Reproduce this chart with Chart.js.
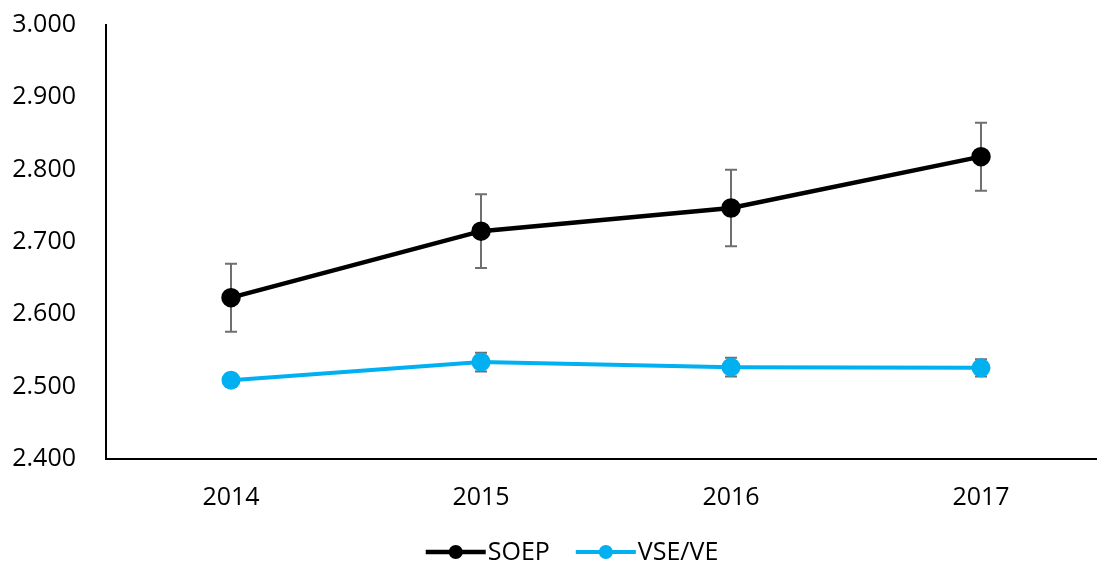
<!DOCTYPE html>
<html>
<head>
<meta charset="utf-8">
<script src="https://cdn.jsdelivr.net/npm/chart.js@4.4.0/dist/chart.umd.min.js"></script>
<style>
  html, body { margin: 0; padding: 0; background: #fff; overflow: hidden; }
</style>
</head>
<body>
<canvas id="chart" width="1118" height="567"></canvas>
<script>
// data
const years = ["2014", "2015", "2016", "2017"];
const soep = [2.623, 2.715, 2.747, 2.818];
const soepErr = [0.047, 0.051, 0.053, 0.047];
const vse = [2.509, 2.534, 2.527, 2.526];
const vseErr = [0.009, 0.013, 0.013, 0.012];
const yTicks = [2.4, 2.5, 2.6, 2.7, 2.8, 2.9, 3.0];

const black = "#000000";
const blue = "#00B0F0";
const barColor = "#6f6f6f";
const fontFam = "Open Sans";

const errorBars = {
  id: "errorBars",
  beforeDatasetsDraw(chart) {
    let ctx = chart.ctx;
    let x = chart.scales.x, y = chart.scales.y;
    let sets = [[soep, soepErr], [vse, vseErr]];
    ctx.save();
    ctx.strokeStyle = barColor;
    ctx.lineWidth = 2;
    sets.forEach(function (s) {
      s[0].forEach(function (v, i) {
        let px = x.getPixelForValue(i);
        let top = y.getPixelForValue(v + s[1][i]);
        let bot = y.getPixelForValue(v - s[1][i]);
        ctx.beginPath();
        ctx.moveTo(px, top); ctx.lineTo(px, bot);
        ctx.moveTo(px - 6, top); ctx.lineTo(px + 6, top);
        ctx.moveTo(px - 6, bot); ctx.lineTo(px + 6, bot);
        ctx.stroke();
      });
    });
    ctx.restore();
  }
};

// legend like the spreadsheet one: line with a dot, then the name
const lineLegend = {
  id: "lineLegend",
  afterDraw(chart) {
    let ctx = chart.ctx;
    let sets = chart.data.datasets;
    ctx.save();
    ctx.font = "25px '" + fontFam + "'";
    ctx.textBaseline = "middle";
    let markW = 60, gapText = 2, gapItem = 26;
    let total = 0;
    sets.forEach(function (d, i) {
      total += markW + gapText + ctx.measureText(d.label).width + (i < sets.length - 1 ? gapItem : 0);
    });
    let x = chart.width / 2 + 13 - total / 2;
    let y = 552;
    sets.forEach(function (d) {
      ctx.strokeStyle = d.borderColor;
      ctx.lineWidth = d.borderWidth;
      ctx.beginPath();
      ctx.moveTo(x, y); ctx.lineTo(x + markW, y);
      ctx.stroke();
      ctx.fillStyle = d.borderColor;
      ctx.beginPath();
      ctx.arc(x + markW / 2, y, 7, 0, Math.PI * 2);
      ctx.fill();
      ctx.fillStyle = "#000";
      ctx.fillText(d.label, x + markW + gapText, y + 1);
      x += markW + gapText + ctx.measureText(d.label).width + gapItem;
    });
    ctx.restore();
  }
};

var chart = new Chart(document.getElementById("chart"), {
  type: "line",
  data: {
    labels: years,
    datasets: [
      {
        label: "SOEP",
        data: soep,
        borderColor: black,
        backgroundColor: black,
        borderWidth: 4.5,
        pointRadius: 7.5,
        pointHoverRadius: 7.5,
        fill: false
      },
      {
        label: "VSE/VE",
        data: vse,
        borderColor: blue,
        backgroundColor: blue,
        borderWidth: 4,
        pointRadius: 7.5,
        pointHoverRadius: 7.5,
        fill: false
      }
    ]
  },
  options: {
    responsive: false,
    animation: false,
    layout: { padding: { top: 25, left: 0, right: 4, bottom: 48 } },
    plugins: {
      tooltip: { enabled: false },
      legend: { display: false }
    },
    scales: {
      x: {
        offset: true,
        afterFit: function (s) { s.height = 60; s.paddingLeft = 0; s.paddingRight = 0; },
        grid: { display: false, drawTicks: false },
        border: { display: true, color: "#000", width: 2 },
        ticks: {
          padding: 24,
          color: "#000",
          font: { family: fontFam, size: 25 }
        }
      },
      y: {
        min: 2.4,
        max: 3.0,
        afterFit: function (s) { s.width = 106; s.paddingTop = 0; s.paddingBottom = 0; },
        afterBuildTicks: function (s) { s.ticks = yTicks.map(function (v) { return { value: v }; }); },
        grid: { display: false, drawTicks: false },
        border: { display: true, color: "#000", width: 2 },
        ticks: {
          padding: 30,
          color: "#000",
          font: { family: fontFam, size: 25 },
          callback: function (v) { return v.toFixed(3); }
        }
      }
    }
  },
  plugins: [errorBars, lineLegend]
});
</script>
</body>
</html>
